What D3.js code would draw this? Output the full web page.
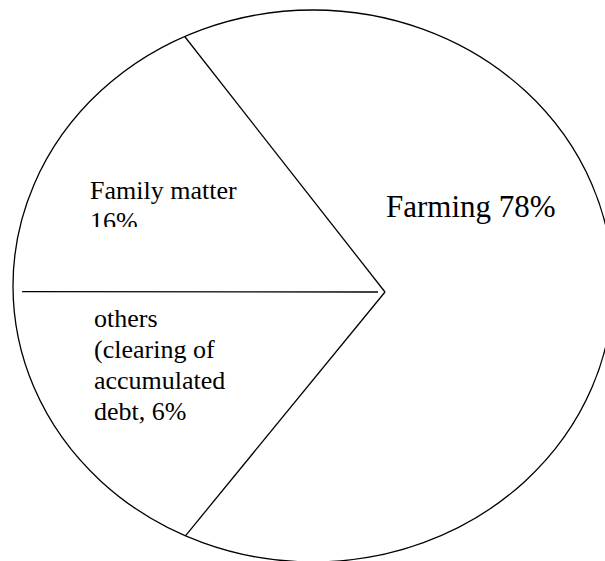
<!DOCTYPE html>
<html>
<head>
<meta charset="utf-8">
<script src="https://cdn.jsdelivr.net/npm/d3@7"></script>
<style>
  html, body { margin: 0; padding: 0; background: #fff; }
  svg { display: block; }
</style>
</head>
<body>
<script>
// slice order goes clockwise, starting at the upper-left boundary line
const categories = ["Farming", "others", "Family matter"];
// share of the pie as drawn (angles)
const drawnShare = [71.5, 14.1, 14.4];
// label text, one entry per line
const farmingLabel = ["Farming 78%"];
const familyLabel = ["Family matter", "16%"];
const othersLabel = ["others", "(clearing of", "accumulated", "debt, 6%"];

var width = 605,
  height = 561;
var serif =
  "'Liberation Serif', 'LiberationSerif', 'DejaVu Serif', 'Noto Serif', FreeSerif, 'Nimbus Roman', Tinos, 'Times New Roman', Times, Georgia, serif";

// outline ellipse and the point where the slices meet (it is not the centre)
var ell = { cx: 313, cy: 286, rx: 300, ry: 276 };
var apex = { x: 385, y: 292 };

var svg = d3
  .select("body")
  .append("svg")
  .attr("width", width)
  .attr("height", height);

var start = (-38.1 * Math.PI) / 180;
var pie = d3
  .pie()
  .sort(null)
  .value((d) => d)
  .startAngle(start)
  .endAngle(start + 2 * Math.PI);

var arcs = pie(drawnShare);

// where a ray from the apex at pie angle a hits the ellipse
function hit(a) {
  var dx = Math.sin(a),
    dy = -Math.cos(a);
  var ox = apex.x - ell.cx,
    oy = apex.y - ell.cy;
  var A = (dx * dx) / (ell.rx * ell.rx) + (dy * dy) / (ell.ry * ell.ry);
  var B = 2 * ((ox * dx) / (ell.rx * ell.rx) + (oy * dy) / (ell.ry * ell.ry));
  var C = (ox * ox) / (ell.rx * ell.rx) + (oy * oy) / (ell.ry * ell.ry) - 1;
  var t = (-B + Math.sqrt(B * B - 4 * A * C)) / (2 * A);
  return { t: t, x: apex.x + t * dx, y: apex.y + t * dy, dx: dx, dy: dy };
}

function ellAngle(p) {
  return Math.atan2((p.y - ell.cy) / ell.ry, (p.x - ell.cx) / ell.rx);
}

function slicePath(d) {
  var p0 = hit(d.startAngle),
    p1 = hit(d.endAngle);
  var diff = ellAngle(p1) - ellAngle(p0);
  while (diff < 0) diff += 2 * Math.PI;
  var large = diff > Math.PI ? 1 : 0;
  return (
    "M" + apex.x + "," + apex.y +
    "L" + p0.x + "," + p0.y +
    "A" + ell.rx + "," + ell.ry + " 0 " + large + " 1 " + p1.x + "," + p1.y +
    "Z"
  );
}

// slice fills
svg
  .selectAll("path.slice")
  .data(arcs)
  .enter()
  .append("path")
  .attr("class", "slice")
  .attr("d", slicePath)
  .attr("fill", "#fff")
  .attr("stroke", "none");

// outline
svg
  .append("ellipse")
  .attr("cx", ell.cx)
  .attr("cy", ell.cy)
  .attr("rx", ell.rx)
  .attr("ry", ell.ry)
  .attr("fill", "none")
  .attr("stroke", "#000")
  .attr("stroke-width", 1.3);

// boundary lines, one at the start of each slice
// the horizontal one stops short of the apex and the rim, like the original
var inset = [
  [0, 0],
  [0, 0],
  [7, 9],
];
svg
  .selectAll("line.edge")
  .data(arcs)
  .enter()
  .append("line")
  .attr("class", "edge")
  .each(function (d, i) {
    var p = hit(d.startAngle);
    var a = inset[i][0],
      b = p.t - inset[i][1];
    d3.select(this)
      .attr("x1", apex.x + a * p.dx)
      .attr("y1", apex.y + a * p.dy)
      .attr("x2", apex.x + b * p.dx)
      .attr("y2", apex.y + b * p.dy);
  })
  .attr("stroke", "#000")
  .attr("stroke-width", 1.3);

// text boxes
function addLabel(lines, x, y, size, lh, clipId) {
  var g = svg.append("g");
  if (clipId) g.attr("clip-path", "url(#" + clipId + ")");
  g.selectAll("text")
    .data(lines)
    .enter()
    .append("text")
    .attr("x", x)
    .attr("y", (d, i) => y + i * lh)
    .attr("font-family", serif)
    .attr("font-size", size + "px")
    .attr("fill", "#000")
    .text((d) => d);
}

// the family matter box cuts off its second line
svg
  .append("clipPath")
  .attr("id", "famclip")
  .append("rect")
  .attr("x", 80)
  .attr("y", 160)
  .attr("width", 200)
  .attr("height", 67);

addLabel(farmingLabel, 386, 217, 31, 35);
addLabel(familyLabel, 90, 199, 26, 31, "famclip");
addLabel(othersLabel, 94, 327, 26, 31);
</script>
</body>
</html>
